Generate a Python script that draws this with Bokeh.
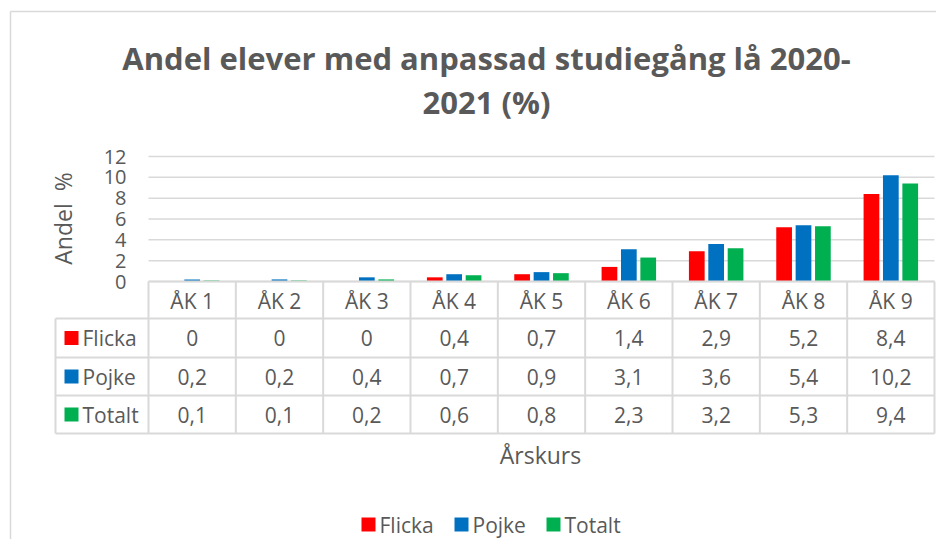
import math
from bokeh.plotting import figure
from bokeh.models import Range1d, ColumnDataSource
from bokeh.core.properties import value
from bokeh.embed import file_html
from bokeh.resources import INLINE

# ---- data ----
categories = ["ÅK 1", "ÅK 2", "ÅK 3", "ÅK 4", "ÅK 5", "ÅK 6", "ÅK 7", "ÅK 8", "ÅK 9"]
series_names = ["Flicka", "Pojke", "Totalt"]
flicka = [0, 0, 0, 0.4, 0.7, 1.4, 2.9, 5.2, 8.4]
pojke = [0.2, 0.2, 0.4, 0.7, 0.9, 3.1, 3.6, 5.4, 10.2]
totalt = [0.1, 0.1, 0.2, 0.6, 0.8, 2.3, 3.2, 5.3, 9.4]
y_ticks = [0, 2, 4, 6, 8, 10, 12]
title_lines = ["Andel elever med anpassad studiegång lå 2020-", "2021 (%)"]
y_label = "Andel\u00a0\u00a0%"
x_label = "Årskurs"

colors = ["#FF0000", "#0070C0", "#00B050"]
TXT = "#595959"
LINE = "#D9D9D9"
FONT = "Open Sans"

# ---- layout helpers (image pixel -> data units) ----
W_FIG, H_FIG = 936, 539
OFF = 0
PX_L, PX_R = 148, 934
PX_W = (PX_R - PX_L) / len(categories)
PX_Y0, PX_Y12 = 281, 156
PX_U = (PX_Y0 - PX_Y12) / 12.0


def X(px):
    return (px - PX_L) / PX_W


def Y(py):
    return (PX_Y0 - py) / PX_U


p = figure(width=W_FIG, height=H_FIG, output_backend="svg", toolbar_location=None,
           x_range=Range1d(X(OFF), X(OFF + W_FIG)), y_range=Range1d(Y(OFF + H_FIG), Y(OFF)),
           x_axis_type=None, y_axis_type=None, min_border=0,
           min_border_left=0, min_border_right=0, min_border_top=0, min_border_bottom=0)
p.grid.visible = False
p.outline_line_color = None
p.background_fill_color = "white"
p.border_fill_color = "white"

# chart-area border (left and top)
p.segment(x0=[X(10), X(10)], y0=[Y(11), Y(11)], x1=[X(10), X(960)], y1=[Y(560), Y(11)],
          line_color=LINE, line_width=1.5)

# gridlines
p.segment(x0=[0] * len(y_ticks), x1=[len(categories)] * len(y_ticks), y0=y_ticks, y1=y_ticks,
          line_color=LINE, line_width=1.5)

# y tick labels
p.text(x=[X(126)] * len(y_ticks), y=y_ticks, text=[str(t) for t in y_ticks],
       text_align="right", text_baseline="middle", text_color=TXT,
       text_font=value(FONT), text_font_size="20px")

# y axis label
p.text(x=[X(62)], y=[Y(218)], text=[y_label], angle=math.pi / 2,
       text_align="center", text_baseline="middle", text_color=TXT,
       text_font=value(FONT), text_font_size="23px")

# bars
bar_w = 0.18
offsets = [-0.222, 0.0, 0.222]
for vals, off, col in zip([flicka, pojke, totalt], offsets, colors):
    src = ColumnDataSource(dict(x=[i + 0.5 + off for i in range(len(categories))], top=vals))
    p.vbar(x="x", top="top", bottom=0, width=bar_w, source=src, fill_color=col, line_color=None)

# table lines
rows_px = [281, 318, 357, 395, 433]
hx0 = [X(PX_L)] + [X(55)] * 4
p.segment(x0=hx0, x1=[len(categories)] * 5, y0=[Y(r) for r in rows_px], y1=[Y(r) for r in rows_px],
          line_color=LINE, line_width=2)
vx = list(range(len(categories) + 1))
p.segment(x0=vx, x1=vx, y0=[Y(281)] * len(vx), y1=[Y(433)] * len(vx), line_color=LINE, line_width=2)
p.segment(x0=[X(55)], x1=[X(55)], y0=[Y(318)], y1=[Y(433)], line_color=LINE, line_width=2)

# header
p.text(x=[i + 0.5 for i in range(len(categories))], y=[Y(300)] * len(categories), text=categories,
       text_align="center", text_baseline="middle", text_color=TXT,
       text_font=value(FONT), text_font_size="21px")

# rows
row_centers = [337.5, 376, 414]
for vals, name, col, rc in zip([flicka, pojke, totalt], series_names, colors, row_centers):
    labels = [f"{v:g}".replace(".", ",") for v in vals]
    p.text(x=[i + 0.5 for i in range(len(categories))], y=[Y(rc)] * len(categories), text=labels,
           text_align="center", text_baseline="middle", text_color=TXT,
           text_font=value(FONT), text_font_size="21px")
    p.scatter(x=[X(71)], y=[Y(rc)], marker="square", size=14, fill_color=col, line_color=None)
    p.text(x=[X(82)], y=[Y(rc)], text=[name], text_align="left", text_baseline="middle",
           text_color=TXT, text_font=value(FONT), text_font_size="21px")

# x axis title
p.text(x=[X(540)], y=[Y(454)], text=[x_label], text_align="center", text_baseline="middle",
       text_color=TXT, text_font=value(FONT), text_font_size="23px")

# legend
leg_sq = [368, 461, 553]
for name, col, sx in zip(series_names, colors, leg_sq):
    p.scatter(x=[X(sx)], y=[Y(524)], marker="square", size=14, fill_color=col, line_color=None)
    p.text(x=[X(sx + 11)], y=[Y(524)], text=[name], text_align="left", text_baseline="middle",
           text_color=TXT, text_font=value(FONT), text_font_size="21px")

# title
for line, cy in zip(title_lines, [57, 101]):
    p.text(x=[X(486)], y=[Y(cy)], text=[line], text_align="center", text_baseline="middle",
           text_color=TXT, text_font=value(FONT), text_font_size="31px", text_font_style="bold")

open("out.html", "w").write(file_html(p, INLINE))
